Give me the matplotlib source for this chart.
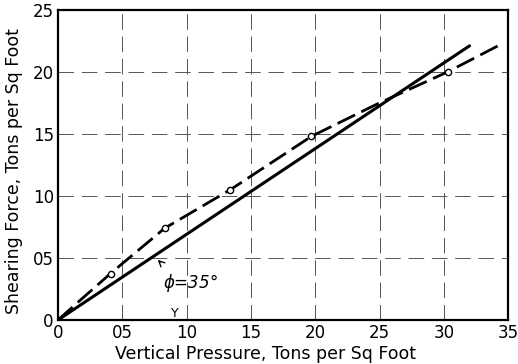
import numpy as np
import matplotlib
matplotlib.use('Agg')
import matplotlib.pyplot as plt

# Shear test results: vertical pressure vs shearing force (tons per sq ft)
test_pressure = [4.1, 8.3, 13.4, 19.7, 30.3]
test_shear = [3.7, 7.45, 10.45, 14.8, 20.0]

# Faired curve through the test points
curve_pressure = [0, 1.3, 4.2, 8.3, 13.4, 19.7, 25.0, 30.3, 34.4]
curve_shear = [0, 1.2, 3.85, 7.4, 10.5, 14.8, 17.5, 20.0, 22.2]

# Straight envelope, phi = 35 deg
line_pressure = [0, 32.0]
line_shear = [0, 22.1]

xticks = [0, 5, 10, 15, 20, 25, 30, 35]
xtick_labels = ['0', '05', '10', '15', '20', '25', '30', '35']
yticks = [0, 5, 10, 15, 20, 25]
ytick_labels = ['0', '05', '10', '15', '20', '25']

fig = plt.figure(figsize=(5.18, 3.64), dpi=100)
ax = fig.add_axes([0.112, 0.121, 0.869, 0.852])

ax.set_xlim(0, 35)
ax.set_ylim(0, 25)

# dashed grid on every 5 units
for xv in xticks[1:-1]:
    ax.axvline(xv, color='#555555', lw=0.7, ls=(0, (16, 7)), zorder=1)
for yv in yticks[1:-1]:
    ax.axhline(yv, color='#555555', lw=0.7, ls=(0, (16, 8)), zorder=1)

ax.plot(line_pressure, line_shear, color='black', lw=2.2,
        solid_capstyle='round', zorder=3)
ax.plot(curve_pressure, curve_shear, color='black', lw=2.0,
        ls=(0, (7, 2.5)), zorder=3)
ax.plot(test_pressure, test_shear, 'o', ms=4.5, mfc='white', mec='black',
        mew=1.0, zorder=4)

ax.annotate('', xy=(7.6, 5.0), xytext=(8.1, 4.5),
            arrowprops=dict(arrowstyle='->', color='black', lw=1.0))
ax.text(8.2, 3.0, r'$\phi$=35°', fontsize=12, style='italic',
        va='center', ha='left')
ax.text(9.1, 0.55, 'Y', fontsize=9, ha='center', va='center')

ax.set_xticks(xticks)
ax.set_xticklabels(xtick_labels)
ax.set_yticks(yticks)
ax.set_yticklabels(ytick_labels)
ax.tick_params(length=0, labelsize=12, pad=3)

ax.set_xlabel('Vertical Pressure, Tons per Sq Foot', fontsize=12.5)
ax.xaxis.set_label_coords(0.462, -0.08)
ax.set_ylabel('Shearing Force, Tons per Sq Foot', fontsize=12.5)
ax.yaxis.set_label_coords(-0.077, 0.48)

for side in ['left', 'bottom', 'right', 'top']:
    ax.spines[side].set_linewidth(1.6)
    ax.spines[side].set_color('black')

plt.savefig('out.png', dpi=100)
plt.close()
